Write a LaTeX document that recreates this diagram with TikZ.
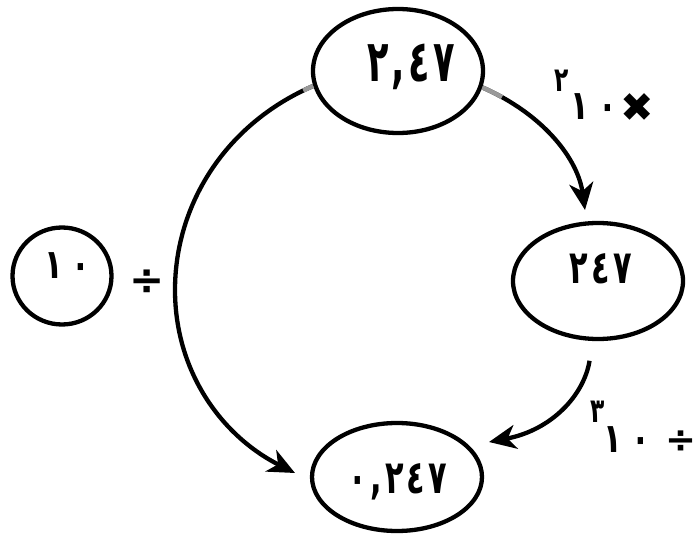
\documentclass[tikz,border=0pt]{standalone}
\usepackage{fontspec}
\usepackage{graphicx}
\usetikzlibrary{shapes.geometric,arrows.meta}
\newfontfamily\arfont{DejaVu Sans}
\newcommand\gp{\kern 4pt}
\begin{document}
\begin{tikzpicture}[x=1pt,y=-1pt,
  bub/.style={draw=black,line width=4.3pt,ellipse,inner sep=0pt,fill=white},
  big/.style={font=\arfont\bfseries\fontsize{44}{46}\selectfont,inner sep=0pt},
  num/.style={font=\arfont\bfseries\fontsize{38}{40}\selectfont,inner sep=0pt},
  lab/.style={font=\arfont\bfseries\fontsize{34}{36}\selectfont,inner sep=0pt},
  sup/.style={font=\arfont\bfseries\fontsize{26}{28}\selectfont,inner sep=0pt},
  opr/.style={font=\arfont\bfseries\fontsize{42}{44}\selectfont,inner sep=0pt},
  conn/.style={line width=4.3pt,-{Stealth[length=27pt,width=24pt,inset=8pt]}},
  stub/.style={line width=4.5pt,draw=black!40}]
\useasboundingbox[fill=white] (0,0) rectangle (697,551);
% bubbles
\node[bub,minimum width=170pt,minimum height=124pt] (T) at (398,71) {};
\node[bub,minimum width=170pt,minimum height=116pt] (R) at (598,281) {};
\node[bub,minimum width=170pt,minimum height=108pt] (B) at (397,477) {};
\node[bub,minimum width=99pt,minimum height=97pt] (L) at (62,276) {};
% texts
\node[big] (tT) at (411,67) {\scalebox{0.8}[1.32]{٢\gp,\gp٤\gp٧}};
\node[num] (tR) at (601,269) {\scalebox{0.8}[1.22]{٢\gp٤\gp٧}};
\node[num] (tB) at (398,482) {\scalebox{0.8}[1.22]{٠\gp,\gp٢\gp٤\gp٧}};
\node[lab] (tL) at (67,266) {\scalebox{0.9}[1.2]{١\kern9pt٠}};
\node[opr] (dL) at (147,282) {÷};
% label top-right
\node[sup] (s1) at (562,81) {\scalebox{0.9}[1.3]{٢}};
\node[lab] (n1) at (594,107) {\scalebox{0.9}[1.2]{١\kern10pt٠}};
\node[opr] (x1) at (637,108) {\fontsize{40}{42}\selectfont ✖};
% label bottom-right
\node[sup] (s2) at (598,412) {\scalebox{0.9}[1.3]{٣}};
\node[lab] (n2) at (627,440) {\scalebox{0.9}[1.2]{١\kern10pt٠}};
\node[opr,font=\arfont\bfseries\fontsize{37}{39}\selectfont] (d2) at (681,442) {÷};
% arrow tips
\coordinate (e1) at (295,473);
\coordinate (e2) at (585,210);
\coordinate (e3) at (489,442);
% connectors
\draw[conn] (T.190) .. controls (225,124) and (175,205) .. (175,290)
  .. controls (175,370) and (220,435) .. (e1);
\draw[stub,dash pattern=on 11pt off 3000pt] (T.190) .. controls (225,124) and (175,205) .. (175,290);
\draw[conn] (T.-11) .. controls (545,115) and (578,160) .. (e2);
\draw[stub,dash pattern=on 22pt off 3000pt] (T.-11) .. controls (545,115) and (578,160) .. (e2);
\draw[conn,shorten <=20pt] (R.265) .. controls (584,395) and (552,430) .. (e3);
\end{tikzpicture}
\end{document}
